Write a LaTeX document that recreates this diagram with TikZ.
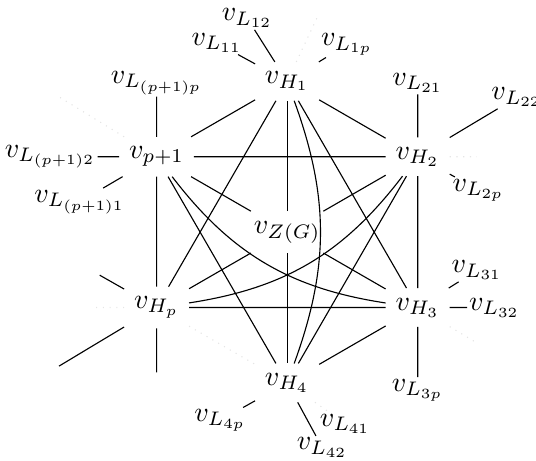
\documentclass[tikz,border=0pt]{standalone}
\usepackage{amsmath}
\usepackage{tikz}
\usetikzlibrary{positioning}

\begin{document}
\begin{tikzpicture}[
 vert/.style={inner sep=0.333em},
 leaf/.style={inner sep=0.5pt},
 ghost/.style={dotted,black!10}
]
\useasboundingbox (-3.60,-2.86) rectangle (3.12,2.91);
\node[vert] (z) at (0,0) {$v_{Z(G)}$};
\node[vert] (h1) at (90:1.89) {$v_{H_1}$};
\node[vert] (h2) at (30:1.89) {$v_{H_2}$};
\node[vert] (h3) at (-30:1.89) {$v_{H_3}$};
\node[vert] (h4) at (-90:1.89) {$v_{H_4}$};
\node[vert] (hp) at (210:1.89) {$v_{H_p}$};
\node[vert] (pp) at (150:1.89) {$v_{p+1}$};
\node[leaf] (l11) at (-0.88,2.37) {$v_{L_{11}}$};
\node[leaf] (l12) at (-0.50,2.68) {$v_{L_{12}}$};
\node[leaf] (l1p) at (0.75,2.35) {$v_{L_{1p}}$};
\node[leaf] (l21) at (1.637,1.87) {$v_{L_{21}}$};
\node[leaf] (l22) at (2.88,1.69) {$v_{L_{22}}$};
\node[leaf] (l2p) at (2.40,0.53) {$v_{L_{2p}}$};
\node[leaf] (l31) at (2.38,-0.48) {$v_{L_{31}}$};
\node[leaf] (l32) at (2.60,-0.945) {$v_{L_{32}}$};
\node[leaf] (l3p) at (1.637,-1.98) {$v_{L_{3p}}$};
\node[leaf] (l41) at (0.73,-2.40) {$v_{L_{41}}$};
\node[leaf] (l42) at (0.44,-2.70) {$v_{L_{42}}$};
\node[leaf] (l4p) at (-0.84,-2.36) {$v_{L_{4p}}$};
\node[leaf] (lpp) at (-1.637,1.87) {$v_{L_{(p+1)p}}$};
\node[leaf] (lp2) at (-2.97,0.945) {$v_{L_{(p+1)2}}$};
\node[leaf] (lp1) at (-2.60,0.38) {$v_{L_{(p+1)1}}$};
\coordinate (hpa) at (-2.35,-0.54);
\coordinate (hpb) at (-2.86,-1.68);
\coordinate (hpc) at (-1.637,-1.76);
\coordinate (g1) at (0.39,2.72);
\coordinate (g2) at (2.38,0.945);
\coordinate (g3) at (2.38,-1.39);
\coordinate (gp) at (-2.43,-0.945);
\coordinate (gq) at (-2.85,1.69);
\foreach \v in {h1,h2,h3,h4,hp,pp}
  \draw (z) -- (\v);
\draw (h1) -- (h2) (h1) -- (h3) (h1) -- (hp) (h1) -- (pp);
\draw (h1) to[bend left=20] (h4);
\draw (h2) -- (h3) (h2) -- (h4) (h2) -- (pp);
\draw (hp) to[bend right=22] (h2);
\draw (h3) -- (h4) (h3) -- (hp);
\draw (pp) to[bend right=22] (h3);
\draw (pp) -- (hp) (pp) -- (h4);
\draw (h1) -- (l11) (h1) -- (l12) (h1) -- (l1p);
\draw (h2) -- (l21) (h2) -- (l22) (h2) -- (l2p);
\draw (h3) -- (l31) (h3) -- (l32) (h3) -- (l3p);
\draw (h4) -- (l4p) (h4) -- (l42);
\draw (hp) -- (hpa) (hp) -- (hpb) (hp) -- (hpc);
\draw (pp) -- (lpp) (pp) -- (lp2) (pp) -- (lp1);
\draw[ghost] (h1) -- (g1);
\draw[ghost] (h2) -- (g2);
\draw[ghost] (h3) -- (g3);
\draw[ghost] (h4) -- (l41);
\draw[ghost] (hp) -- (gp);
\draw[ghost] (hp) -- (h4);
\draw[ghost] (pp) -- (gq);
\end{tikzpicture}
\end{document}
